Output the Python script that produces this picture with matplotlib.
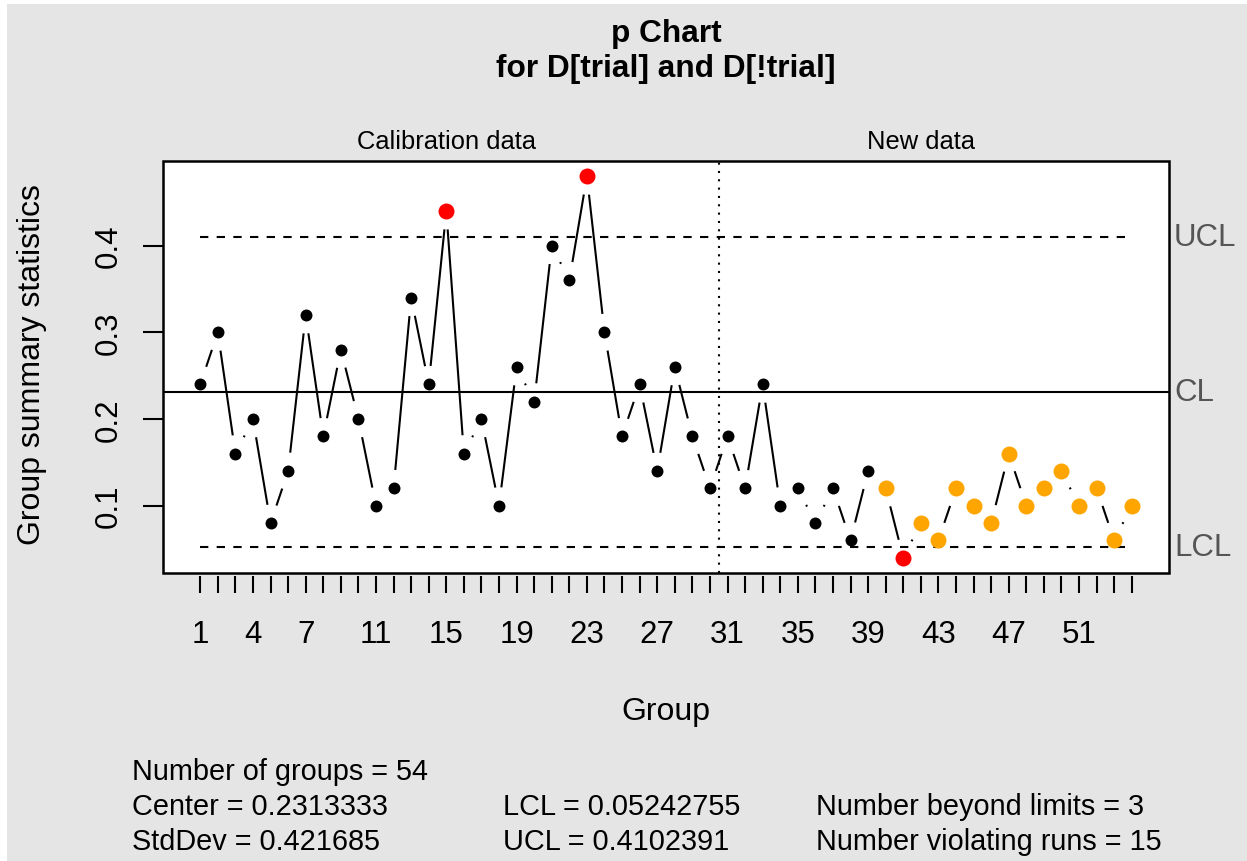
import matplotlib
matplotlib.use('Agg')
import matplotlib.pyplot as plt
from matplotlib.patches import Rectangle

# group proportions (defectives / 50)
p_calib = [0.24, 0.30, 0.16, 0.20, 0.08, 0.14, 0.32, 0.18, 0.28, 0.20,
           0.10, 0.12, 0.34, 0.24, 0.44, 0.16, 0.20, 0.10, 0.26, 0.22,
           0.40, 0.36, 0.48, 0.30, 0.18, 0.24, 0.14, 0.26, 0.18, 0.12]
p_new = [0.18, 0.12, 0.24, 0.10, 0.12, 0.08, 0.12, 0.06, 0.14, 0.12,
         0.04, 0.08, 0.06, 0.12, 0.10, 0.08, 0.16, 0.10, 0.12, 0.14,
         0.10, 0.12, 0.06, 0.10]
center = 0.2313333
lcl = 0.05242755
ucl = 0.4102391
std_dev = 0.421685
runs_groups = [40, 41, 42, 43, 44, 45, 46, 47, 48, 49, 50, 51, 52, 53, 54]
shown_ticks = [1, 4, 7, 11, 15, 19, 23, 27, 31, 35, 39, 43, 47, 51]
y_ticks = [0.1, 0.2, 0.3, 0.4]

plt.rcParams['font.family'] = ['Liberation Sans', 'DejaVu Sans']

W, H = 1247, 862
fig = plt.figure(figsize=(W / 100, H / 100), dpi=100, facecolor='white')
fig.patches.append(Rectangle((7 / W, 0), 1, 1 - 5 / H, transform=fig.transFigure,
                             facecolor='#E5E5E5', edgecolor='none', zorder=-10))

def fx(px):
    return px / W

def fy(py):
    return 1 - py / H

left, right, top, bottom = 163, 1169, 162, 574
ax = fig.add_axes([fx(left), fy(bottom), fx(right - left), (bottom - top) / H])
ax.set_facecolor('white')

stats = p_calib + p_new
n_all = len(stats)
groups = list(range(1, n_all + 1))
pad = 0.04 * (n_all - 1)
ax.set_xlim(1 - pad, n_all + pad)
ymin, ymax = min(min(stats), lcl), max(max(stats), ucl)
ypad = 0.04 * (ymax - ymin)
ax.set_ylim(ymin - ypad, ymax + ypad)

# control lines
ax.axhline(center, color='black', lw=1.5)
ax.plot([1, n_all], [ucl, ucl], color='black', lw=1.5, dashes=(4, 4))
ax.plot([1, n_all], [lcl, lcl], color='black', lw=1.5, dashes=(4, 4))
ax.axvline(len(p_calib) + 0.5, color='black', lw=1.5, dashes=(1, 3))

# type = "b" style segments with gaps around the points
gap = 18.5
pts = ax.transData.transform(list(zip(groups, stats)))
inv = ax.transData.inverted()
for (x0, y0), (x1, y1) in zip(pts[:-1], pts[1:]):
    dx, dy = x1 - x0, y1 - y0
    d = (dx ** 2 + dy ** 2) ** 0.5
    if d <= 2 * gap:
        continue
    ux, uy = dx / d, dy / d
    a = inv.transform((x0 + gap * ux, y0 + gap * uy))
    b = inv.transform((x1 - gap * ux, y1 - gap * uy))
    ax.plot([a[0], b[0]], [a[1], b[1]], color='black', lw=1.5,
            solid_capstyle='butt')

for g, v in zip(groups, stats):
    if v > ucl or v < lcl:
        ax.plot(g, v, 'o', color='#FF0000', ms=11.5, mew=0, zorder=5)
    elif g in runs_groups:
        ax.plot(g, v, 'o', color='#FFA500', ms=11.5, mew=0, zorder=5)
    else:
        ax.plot(g, v, 'o', color='black', ms=8.6, mew=0, zorder=5)

# box
for s in ax.spines.values():
    s.set_visible(False)
ax.add_patch(Rectangle((0, 0), 1, 1, transform=ax.transAxes, fill=False,
                       edgecolor='black', lw=1.8, clip_on=False, zorder=10))
ax.spines['bottom'].set_position(('outward', 2.5))

ax.set_xticks(groups)
ax.set_xticklabels([str(g) if g in shown_ticks else '' for g in groups])
ax.tick_params(axis='x', length=12.5, width=1.5, pad=18, labelsize=22.5)
ax.set_yticks(y_ticks)
ax.set_yticklabels([str(t) for t in y_ticks], rotation=90, va='center')
ax.tick_params(axis='y', length=14.4, width=1.5, pad=14, labelsize=22.5)

# side labels
for name, val in [('UCL', ucl), ('CL', center), ('LCL', lcl)]:
    ax.text(1.005, val, name, transform=ax.get_yaxis_transform(), ha='left',
            va='center', fontsize=22.5, color='#555555')

ax.text(len(p_calib) / 2, 1.02, 'Calibration data', transform=ax.get_xaxis_transform(),
        ha='center', va='bottom', fontsize=18.4)
ax.text(len(p_calib) + len(p_new) / 2, 1.02, 'New data', transform=ax.get_xaxis_transform(),
        ha='center', va='bottom', fontsize=18.4)

fig.text(fx(666), fy(34), 'p Chart', ha='center', va='center', fontsize=22.8,
         fontweight='bold')
fig.text(fx(666), fy(69), 'for D[trial] and D[!trial]', ha='center', va='center',
         fontsize=22.8, fontweight='bold')
fig.text(fx(666), fy(712), 'Group', ha='center', va='center', fontsize=23)
fig.text(fx(32), fy(365), 'Group summary statistics', ha='center', va='center',
         rotation=90, fontsize=23)

fs = 20.8
fig.text(fx(132), fy(772), 'Number of groups = %d' % n_all, va='center', fontsize=fs)
fig.text(fx(132), fy(807), 'Center = %s' % center, va='center', fontsize=fs)
fig.text(fx(132), fy(842), 'StdDev = %s' % std_dev, va='center', fontsize=fs)
fig.text(fx(503), fy(807), 'LCL = %s' % lcl, va='center', fontsize=fs)
fig.text(fx(503), fy(842), 'UCL = %s' % ucl, va='center', fontsize=fs)
n_beyond = sum(1 for v in stats if v > ucl or v < lcl)
fig.text(fx(816), fy(807), 'Number beyond limits = %d' % n_beyond, va='center', fontsize=fs)
fig.text(fx(816), fy(842), 'Number violating runs = %d' % len(runs_groups), va='center',
         fontsize=fs)

fig.savefig('out.png', dpi=100, facecolor=fig.get_facecolor())
